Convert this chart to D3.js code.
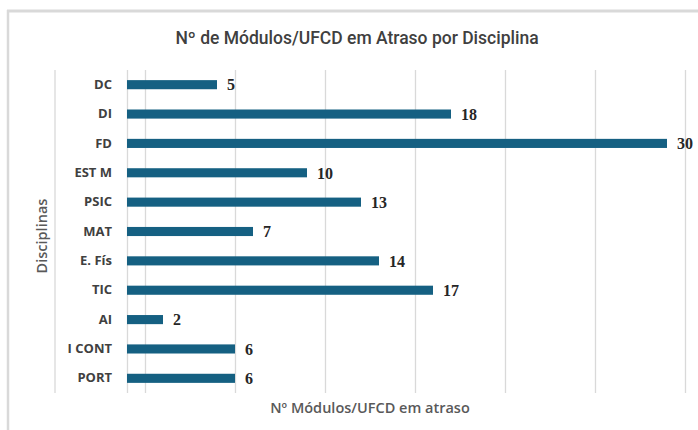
<!DOCTYPE html>
<html>
<head>
<meta charset="utf-8">
<script src="https://cdn.jsdelivr.net/npm/d3@7"></script>
<style>
  html, body { margin: 0; padding: 0; background: #ffffff; }
  svg { display: block; }
</style>
</head>
<body>
<svg id="chart" width="698" height="430"></svg>
<script>
const categories = ["DC", "DI", "FD", "EST M", "PSIC", "MAT", "E. Fís", "TIC", "AI", "I CONT", "PORT"];
const values = [5, 18, 30, 10, 13, 7, 14, 17, 2, 6, 6];
const gridValues = [0, 1, 6, 11, 16, 21, 26, 31];
const titleText = "Nº de Módulos/UFCD em Atraso por Disciplina";
const xTitle = "Nº Módulos/UFCD em atraso";
const yTitle = "Disciplinas";

const svg = d3.select("#chart");
const W = 698, H = 430;
const plot = { left: 127, right: 685, top: 70, bottom: 393 };

// frame (top & left borders of the chart area)
svg.append("rect").attr("x", 0).attr("y", 0).attr("width", W).attr("height", H).attr("fill", "#ffffff");
svg.append("line").attr("x1", 7).attr("x2", W).attr("y1", 11).attr("y2", 11)
  .attr("stroke", "#d9d9d9").attr("stroke-width", 3);
svg.append("line").attr("x1", 8).attr("x2", 8).attr("y1", 10).attr("y2", H)
  .attr("stroke", "#d9d9d9").attr("stroke-width", 2.5);

const x = d3.scaleLinear().domain([0, 31]).range([plot.left, plot.right]);
const y = d3.scaleBand().domain(categories).range([plot.top, plot.bottom])
  .paddingInner(0.69).paddingOuter(0.345);

// gridlines
const grid = svg.append("g").attr("transform", `translate(0,${plot.bottom})`)
  .call(d3.axisBottom(x).tickValues(gridValues).tickSize(-(plot.bottom - plot.top)).tickFormat(""));
grid.select(".domain").remove();
grid.selectAll(".tick line").attr("stroke", "#d9d9d9").attr("stroke-width", 1.3);

// separator line at left
svg.append("line").attr("x1", 55).attr("x2", 55).attr("y1", plot.top).attr("y2", plot.bottom)
  .attr("stroke", "#d9d9d9").attr("stroke-width", 1.3);

// bars
svg.append("g").selectAll("rect").data(values).join("rect")
  .attr("x", x(0))
  .attr("y", (d, i) => y(categories[i]))
  .attr("width", d => x(d) - x(0))
  .attr("height", y.bandwidth())
  .attr("fill", "#156082");

// value labels
svg.append("g").selectAll("text").data(values).join("text")
  .attr("x", d => x(d) + 10)
  .attr("y", (d, i) => y(categories[i]) + y.bandwidth() / 2)
  .attr("dy", "0.36em")
  .attr("font-family", "'Liberation Serif', serif")
  .attr("font-weight", "bold")
  .attr("font-size", 16)
  .attr("fill", "#262626")
  .text(d => d);

// category axis
const yAxis = svg.append("g").attr("transform", `translate(${plot.left},0)`)
  .call(d3.axisLeft(y).tickSize(0).tickPadding(15));
yAxis.select(".domain").remove();
yAxis.selectAll("text")
  .attr("font-family", "'Open Sans', sans-serif")
  .attr("font-weight", 700)
  .attr("font-size", 13)
  .attr("fill", "#404040");

// title
svg.append("text").attr("x", 357).attr("y", 44).attr("text-anchor", "middle")
  .attr("font-family", "Roboto, sans-serif").attr("font-weight", 500)
  .attr("font-size", 17.5).attr("fill", "#404040").text(titleText);

// axis titles
svg.append("text").attr("x", 370).attr("y", 413).attr("text-anchor", "middle")
  .attr("font-family", "'Open Sans', sans-serif").attr("font-weight", 600)
  .attr("font-size", 14.5).attr("fill", "#595959").text(xTitle);

svg.append("text").attr("transform", "translate(47,236) rotate(-90)").attr("text-anchor", "middle")
  .attr("font-family", "'Open Sans', sans-serif").attr("font-weight", 600)
  .attr("font-size", 14.5).attr("fill", "#595959").text(yTitle);
</script>
</body>
</html>
